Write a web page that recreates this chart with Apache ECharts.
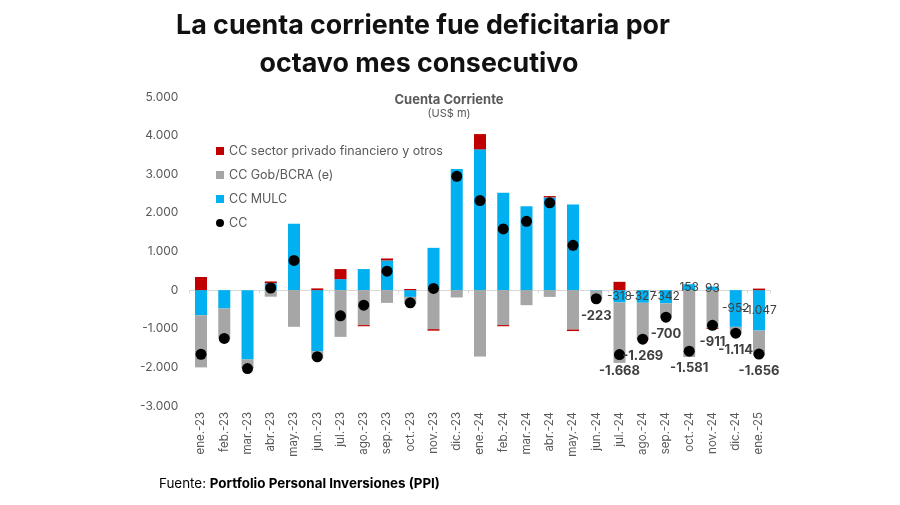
<!DOCTYPE html>
<html>
<head>
<meta charset="utf-8">
<script src="https://cdn.jsdelivr.net/npm/echarts@6/dist/echarts.min.js"></script>
<style>
html,body{margin:0;padding:0;background:#fff;}
#chart{width:900px;height:505px;}
</style>
</head>
<body>
<div id="chart"></div>
<script>
var categories = ['ene.-23','feb.-23','mar.-23','abr.-23','may.-23','jun.-23','jul.-23','ago.-23','sep.-23','oct.-23','nov.-23','dic.-23',
  'ene.-24','feb.-24','mar.-24','abr.-24','may.-24','jun.-24','jul.-24','ago.-24','sep.-24','oct.-24','nov.-24','dic.-24','ene.-25'];
var ccMulc = [-650,-475,-1795,180,1720,-1580,285,545,770,-175,1095,3135,3645,2520,2170,2400,2220,-15,-318,-327,-342,153,93,-952,-1047];
var ccGob = [-1350,-775,-205,-170,-950,-190,-1210,-905,-330,-185,-1010,-190,-1720,-905,-390,-175,-1020,-208,-1565,-922,-358,-1734,-974,-162,-649];
var ccPrivado = [340,0,-20,45,0,45,260,-30,50,30,-40,0,395,-30,0,35,-40,0,215,-20,0,0,-30,0,40];
var ccTotal = [-1660,-1250,-2030,55,770,-1725,-665,-390,490,-330,45,2945,2320,1585,1780,2260,1160,-223,-1668,-1269,-700,-1581,-911,-1114,-1656];
var yTicks = {min:-3000, max:5000, interval:1000};
var firstMulcLabel = 18;
var firstCcLabel = 17;

function fmt(v){
  var s = Math.abs(Math.round(v)).toString().replace(/\B(?=(\d{3})+(?!\d))/g, '.');
  return (v < 0 ? '-' : '') + s;
}

var FONT = 'Inter, Roboto, "Noto Sans", sans-serif';
var chart = echarts.init(document.getElementById('chart'), null, {renderer:'canvas'});
var option = {
  backgroundColor:'#ffffff',
  animation:false,
  textStyle:{fontFamily:FONT},
  legend:{
    orient:'vertical', left:211, top:139, itemGap:10,
    itemWidth:8, itemHeight:8,
    textStyle:{color:'#595959', fontSize:12.5, fontFamily:FONT, lineHeight:14},
    data:[
      {name:'CC sector privado financiero y otros', icon:'rect'},
      {name:'CC Gob/BCRA (e)', icon:'rect'},
      {name:'CC MULC', icon:'rect'},
      {name:'CC', icon:'circle'}
    ]
  },
  grid:{left:189.4, right:129.4, top:97, bottom:99},
  xAxis:[
    {type:'category', data:categories, position:'bottom',
     axisLine:{show:true, onZero:true, lineStyle:{color:'#D9D9D9', width:1}},
     axisTick:{show:true, length:3, lineStyle:{color:'#D9D9D9'}},
     axisLabel:{show:false}},
    {type:'category', data:categories, position:'bottom', offset:0,
     axisLine:{show:false, onZero:false}, axisTick:{show:false},
     axisLabel:{show:true, rotate:90, margin:6, color:'#595959', fontSize:11.5, fontFamily:FONT, interval:0}}
  ],
  yAxis:{type:'value', min:yTicks.min, max:yTicks.max, interval:yTicks.interval,
    axisLine:{show:false}, axisTick:{show:false}, splitLine:{show:false},
    axisLabel:{color:'#595959', fontSize:12, margin:11, fontFamily:FONT, formatter:function(v){return fmt(v);}}},
  series:[
    {name:'CC MULC', type:'bar', stack:'cc', xAxisIndex:0, barWidth:12, data:ccMulc,
     itemStyle:{color:'#00B0F0'},
     label:{show:true, position:'inside', color:'#404040', fontSize:12, fontFamily:FONT,
       formatter:function(p){return p.dataIndex>=firstMulcLabel ? fmt(p.value) : '';}}},
    {name:'CC Gob/BCRA (e)', type:'bar', stack:'cc', xAxisIndex:0, barWidth:12, data:ccGob,
     itemStyle:{color:'#A6A6A6'}},
    {name:'CC sector privado financiero y otros', type:'bar', stack:'cc', xAxisIndex:0, barWidth:12, data:ccPrivado,
     itemStyle:{color:'#C00000'}},
    {name:'CC', type:'scatter', xAxisIndex:0, symbol:'circle', symbolSize:11, data:ccTotal, z:5,
     itemStyle:{color:'#000000', opacity:1},
     label:{show:true, position:'bottom', distance:5, color:'#404040', fontSize:13, fontWeight:'bold', fontFamily:FONT,
       formatter:function(p){return p.dataIndex>=firstCcLabel ? fmt(p.value) : '';}}}
  ],
  graphic:[
    {type:'text', x:423, y:12, style:{text:'La cuenta corriente fue deficitaria por', fontSize:26.8, fontWeight:'bold', fontFamily:FONT, fill:'#111', align:'center'}},
    {type:'text', x:419, y:50, style:{text:'octavo mes consecutivo', fontSize:26.8, fontWeight:'bold', fontFamily:FONT, fill:'#111', align:'center'}},
    {type:'text', x:449, y:94, style:{text:'Cuenta Corriente', fontSize:13, fontWeight:'bold', fontFamily:FONT, fill:'#595959', align:'center'}},
    {type:'text', x:449, y:108, style:{text:'(US$ m)', fontSize:11, fontFamily:FONT, fill:'#595959', align:'center'}},
    {type:'text', x:159, y:477, style:{text:'{a|Fuente: }{b|Portfolio Personal Inversiones (PPI)}', fontFamily:FONT,
      rich:{a:{fontSize:13.4, color:'#222', fontFamily:FONT}, b:{fontSize:13.4, fontWeight:'bold', color:'#111', fontFamily:FONT}}}}
  ]
};
chart.setOption(option);
</script>
</body>
</html>
